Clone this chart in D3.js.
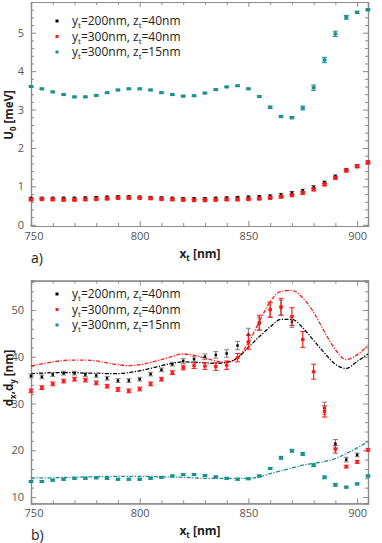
<!DOCTYPE html>
<html><head><meta charset="utf-8">
<script src="https://cdn.jsdelivr.net/npm/d3@7"></script>
<style>
html,body{margin:0;padding:0;background:#fff;}
svg{display:block;font-family:"Open Sans",sans-serif;}
</style></head>
<body>
<svg id="c" width="382" height="543"></svg>
<script>
// ---------- DATA ----------
const xT = [750,755,760,765,770,775,780,785,790,795,800,805,810,815,820,825,830,835,840,845,850,855,860,865,870,875,880,885,890,895,900,905];

// panel a: U0 [meV]
const u0_y200z40 = [0.70,0.70,0.70,0.70,0.70,0.71,0.72,0.73,0.74,0.74,0.73,0.72,0.71,0.70,0.69,0.69,0.69,0.70,0.71,0.72,0.73,0.74,0.76,0.79,0.84,0.90,0.99,1.11,1.27,1.44,1.54,1.64];
const u0_y200z40_err = [0.02,0.02,0.02,0.02,0.02,0.02,0.02,0.02,0.02,0.02,0.02,0.02,0.02,0.02,0.02,0.02,0.02,0.02,0.02,0.02,0.02,0.02,0.02,0.03,0.03,0.03,0.03,0.03,0.03,0.03,0.03,0.03];
const u0_y300z40 = [0.66,0.67,0.66,0.65,0.65,0.66,0.67,0.68,0.70,0.70,0.70,0.69,0.67,0.66,0.65,0.64,0.64,0.65,0.66,0.66,0.67,0.68,0.70,0.73,0.77,0.83,0.92,1.05,1.22,1.41,1.52,1.62];
const u0_y300z40_err = [0.02,0.02,0.02,0.02,0.02,0.02,0.02,0.02,0.02,0.02,0.02,0.02,0.02,0.02,0.02,0.02,0.02,0.02,0.02,0.02,0.02,0.02,0.02,0.02,0.02,0.03,0.03,0.03,0.03,0.03,0.03,0.03];
const u0_y300z15 = [3.60,3.54,3.46,3.39,3.33,3.33,3.37,3.44,3.51,3.54,3.54,3.51,3.44,3.39,3.35,3.36,3.43,3.52,3.59,3.62,3.54,3.34,3.06,2.82,2.79,3.04,3.57,4.29,4.97,5.40,5.53,5.60];
const u0_y300z15_err = [0.02,0.02,0.02,0.02,0.02,0.02,0.02,0.02,0.02,0.02,0.02,0.02,0.02,0.02,0.02,0.02,0.02,0.02,0.02,0.02,0.02,0.02,0.03,0.03,0.03,0.05,0.07,0.07,0.07,0.05,0.03,0.03];

// panel b: dx, dy [nm] (points)
const d_y200z40 = [35.9,35.7,36.2,36.5,36.5,36.2,36.0,35.4,34.9,34.9,35.2,36.3,37.2,38.4,39.1,39.5,40.0,40.4,40.7,42.4,44.7,47.1,50.0,50.5,47.5,null,null,29.0,21.4,18.0,19.0,null];
const d_y200z40_err = [0.4,0.4,0.4,0.4,0.4,0.4,0.4,0.4,0.4,0.4,0.4,0.4,0.4,0.4,0.5,0.5,0.6,0.7,0.8,0.9,1.4,1.4,1.6,1.6,1.2,0,0,1.3,0.9,0.5,0.4,0];
const d_y300z40 = [32.7,33.4,34.2,34.8,35.2,35.0,34.4,33.7,33.0,32.7,33.1,34.2,35.2,36.6,37.7,38.1,38.0,37.9,38.2,39.8,43.1,47.3,50.1,50.7,48.6,43.7,36.8,28.3,20.2,16.5,17.5,20.1];
const d_y300z40_err = [0.4,0.4,0.4,0.4,0.4,0.4,0.4,0.4,0.4,0.4,0.4,0.4,0.4,0.4,0.5,0.6,0.7,0.8,0.9,0.9,1.5,1.6,1.6,1.8,1.9,1.7,1.6,1.2,0.8,0.3,0.3,0.3];
const d_y300z15 = [13.3,13.3,13.6,13.8,14.0,14.0,14.1,14.0,13.8,13.8,13.8,14.0,14.2,14.5,14.8,14.8,14.6,14.3,14.0,13.8,13.9,14.5,16.1,18.4,19.9,19.2,16.8,14.2,12.6,12.1,12.8,14.5];
const d_y300z15_err = [0.2,0.2,0.2,0.2,0.2,0.2,0.2,0.2,0.2,0.2,0.2,0.2,0.2,0.2,0.2,0.2,0.2,0.2,0.2,0.2,0.2,0.2,0.2,0.3,0.3,0.3,0.3,0.3,0.3,0.2,0.2,0.2];

// panel b: dashed reference curves
const c_y200z40 = [36.4,36.5,36.6,36.6,36.6,36.5,36.5,36.4,36.4,36.6,37.0,37.5,38.1,38.6,38.9,38.8,38.7,38.6,38.8,39.8,42.0,44.3,46.4,48.0,48.0,46.2,43.5,40.8,38.4,37.5,39.0,40.6];
const c_y300z40 = [38.0,38.5,38.9,39.2,39.3,39.3,39.1,38.7,38.3,38.1,38.3,38.8,39.4,40.1,40.6,40.3,39.7,39.1,38.8,39.8,43.0,47.5,51.8,54.0,54.2,52.6,49.5,45.3,41.5,39.4,40.4,42.5];
const c_y300z15 = [14.1,14.1,14.1,14.2,14.2,14.3,14.3,14.4,14.4,14.4,14.4,14.4,14.3,14.3,14.2,14.1,14.0,14.0,14.0,14.0,14.0,14.3,15.0,15.6,16.2,16.8,17.2,17.6,18.2,19.3,20.5,21.8];

const seriesNames = [["200","40"],["300","40"],["300","15"]];
const colors = ["#000000","#ff1a1a","#1b9090"];
const errColors = ["#808080","#ff1a1a","#1b9090"];

const xTicks = [750,800,850,900];
const yTicksA = [0,1,2,3,4,5];
const yTicksB = [10,20,30,40,50];

// ---------- DRAW ----------
const svg = d3.select("#c");
const x = d3.scaleLinear().domain([750,905]).range([31,368]);
const yA = d3.scaleLinear().domain([-0.03,5.8]).range([226,2]);
const yB = d3.scaleLinear().domain([8.65,56.27]).range([503.3,280.7]);

const axisColor = "#8a8a8a", labColor = "#555";

function frame(y, yMajor, yMinorStep){
  const g = svg.append("g");
  const [y0,y1] = y.range();
  const x0 = x.range()[0], x1 = x.range()[1];
  const xMinor = d3.range(750,906,10).filter(v=>!xTicks.includes(v));
  const yd = y.domain();
  const yMinor = d3.range(Math.ceil(yd[0]/yMinorStep)*yMinorStep, yd[1], yMinorStep).filter(v=>!yMajor.some(m=>Math.abs(m-v)<1e-6));
  const bx = g.append("g").attr("transform",`translate(0,${y0})`)
    .call(d3.axisBottom(x).tickValues(xTicks).tickSize(-5).tickPadding(6).tickFormat(d3.format("d")));
  bx.selectAll(".tick text").filter(d=>d===750).attr("dx",2.5);
  g.append("g").attr("transform",`translate(0,${y0})`).call(d3.axisBottom(x).tickValues(xMinor).tickSize(-3).tickFormat(""));
  g.append("g").attr("transform",`translate(0,${y1})`).call(d3.axisTop(x).tickValues(xTicks).tickSize(-5).tickFormat(""));
  g.append("g").attr("transform",`translate(0,${y1})`).call(d3.axisTop(x).tickValues(xMinor).tickSize(-3).tickFormat(""));
  g.append("g").attr("transform",`translate(${x0},0)`)
    .call(d3.axisLeft(y).tickValues(yMajor).tickSize(-5).tickPadding(7).tickFormat(d3.format("d")));
  g.append("g").attr("transform",`translate(${x0},0)`).call(d3.axisLeft(y).tickValues(yMinor).tickSize(-3).tickFormat(""));
  g.append("g").attr("transform",`translate(${x1},0)`).call(d3.axisRight(y).tickValues(yMajor).tickSize(-5).tickFormat(""));
  g.append("g").attr("transform",`translate(${x1},0)`).call(d3.axisRight(y).tickValues(yMinor).tickSize(-3).tickFormat(""));
  g.selectAll("path.domain").attr("stroke",axisColor).attr("stroke-width",1.2);
  g.selectAll(".tick line").attr("stroke",axisColor);
  g.selectAll(".tick text").attr("fill",labColor).style("font-size","11px").style("font-family","Open Sans");
  return g;
}

function errPoints(y, vals, errs, i, mw, mh){
  const g = svg.append("g");
  const data = xT.map((xv,k)=>({x:xv,v:vals[k],e:errs[k]})).filter(d=>d.v!==null);
  data.forEach(d=>{
    const cx = x(d.x), cy = y(d.v);
    if(d.e>0){
      const t = y(d.v+d.e), bt = y(d.v-d.e);
      g.append("line").attr("x1",cx).attr("x2",cx).attr("y1",t).attr("y2",bt).attr("stroke",errColors[i]).attr("stroke-width",1.2);
      g.append("line").attr("x1",cx-2.5).attr("x2",cx+2.5).attr("y1",t).attr("y2",t).attr("stroke",errColors[i]).attr("stroke-width",1);
      g.append("line").attr("x1",cx-2.5).attr("x2",cx+2.5).attr("y1",bt).attr("y2",bt).attr("stroke",errColors[i]).attr("stroke-width",1);
    }
    g.append("rect").attr("x",cx-mw/2).attr("y",cy-mh/2).attr("width",mw).attr("height",mh).attr("fill",colors[i]);
  });
}

function curve(y, vals, i){
  const line = d3.line().x((d,k)=>x(xT[k])).y(d=>y(d)).curve(d3.curveMonotoneX);
  svg.append("path").attr("d",line(vals)).attr("fill","none").attr("stroke",colors[i])
    .attr("stroke-width",1.3).attr("stroke-dasharray","4,1.5,1.2,1.5");
}

function legend(y0){
  const g = svg.append("g");
  seriesNames.forEach((s,i)=>{
    const yy = y0 + i*15.5;
    g.append("rect").attr("x",55.5).attr("y",yy-1.5).attr("width",3).attr("height",3).attr("fill",colors[i]);
    const t = g.append("text").attr("x",72).attr("y",yy+4).attr("fill","#222").style("font-size","12px");
    t.append("tspan").text("y");
    t.append("tspan").attr("dy",3).style("font-size","8px").text("t");
    t.append("tspan").attr("dy",-3).text(`=${s[0]}nm, z`);
    t.append("tspan").attr("dy",3).style("font-size","8px").text("t");
    t.append("tspan").attr("dy",-3).text(`=${s[1]}nm`);
  });
}

function xLabel(yy){
  const t = svg.append("text").attr("x",200).attr("y",yy).attr("text-anchor","middle")
    .style("font-weight","bold").style("font-size","12px").attr("fill","#222");
  t.append("tspan").text("x");
  t.append("tspan").attr("dy",3).style("font-size","8px").text("t");
  t.append("tspan").attr("dy",-3).text(" [nm]");
}

// Panel a
frame(yA, yTicksA, 0.2);
errPoints(yA, u0_y200z40, u0_y200z40_err, 0, 2.5, 2.5);
errPoints(yA, u0_y300z40, u0_y300z40_err, 1, 4, 4);
errPoints(yA, u0_y300z15, u0_y300z15_err, 2, 4, 3);
legend(21);
xLabel(258);
svg.append("text").attr("x",31).attr("y",263).style("font-size","14px").attr("fill","#222").text("a)");
{
  const t = svg.append("text").attr("transform","translate(12.5,115) rotate(-90)").attr("text-anchor","middle")
    .style("font-weight","bold").style("font-size","11.5px").attr("fill","#222");
  t.append("tspan").text("U");
  t.append("tspan").attr("dy",3).style("font-size","8px").text("0");
  t.append("tspan").attr("dy",-3).text(" [meV]");
}

// Panel b
frame(yB, yTicksB, 2);
curve(yB, c_y300z40, 1);
curve(yB, c_y200z40, 0);
curve(yB, c_y300z15, 2);
errPoints(yB, d_y200z40, d_y200z40_err, 0, 2.5, 2.5);
errPoints(yB, d_y300z40, d_y300z40_err, 1, 3.5, 3);
errPoints(yB, d_y300z15, d_y300z15_err, 2, 4, 3);
legend(294);
xLabel(535);
svg.append("text").attr("x",31).attr("y",540).style("font-size","14px").attr("fill","#222").text("b)");
{
  const t = svg.append("text").attr("transform","translate(12.5,378) rotate(-90)").attr("text-anchor","middle")
    .style("font-weight","bold").style("font-size","11.5px").attr("fill","#222");
  t.append("tspan").text("d");
  t.append("tspan").attr("dy",3).style("font-size","8px").text("x");
  t.append("tspan").attr("dy",-3).text(",d");
  t.append("tspan").attr("dy",3).style("font-size","8px").text("y");
  t.append("tspan").attr("dy",-3).text(" [nm]");
}
</script>
</body></html>
